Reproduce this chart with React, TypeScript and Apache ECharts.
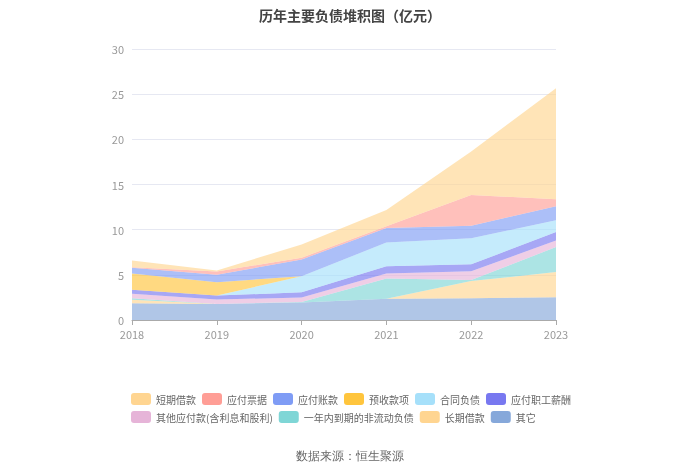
import React, { useEffect, useRef } from "react";
import * as echarts from "echarts";

const years = ["2018", "2019", "2020", "2021", "2022", "2023"];

// legend order (top of stack first)
const shortLoan = [0.75, 0.11, 1.47, 1.8, 4.8, 12.3];
const notesPayable = [0.07, 0.37, 0.2, 0.18, 3.4, 0.77];
const accountsPayable = [0.63, 0.82, 1.85, 1.62, 1.4, 1.56];
const advanceReceipts = [1.8, 1.48, 0, 0, 0, 0];
const contractLiab = [0, 0, 1.78, 2.62, 2.88, 1.3];
const staffPay = [0.45, 0.44, 0.57, 0.8, 0.77, 0.93];
const otherPayables = [0.5, 0.48, 0.5, 0.55, 0.95, 0.73];
const dueWithinYear = [0.15, 0, 0.05, 2.25, 0.12, 2.77];
const longLoan = [0.4, 0, 0, 0, 1.9, 2.78];
const others = [1.85, 1.78, 1.95, 2.35, 2.42, 2.52];

const legendNames = [
  "短期借款",
  "应付票据",
  "应付账款",
  "预收款项",
  "合同负债",
  "应付职工薪酬",
  "其他应付款(含利息和股利)",
  "一年内到期的非流动负债",
  "长期借款",
  "其它",
];

const seriesDefs = [
  { name: "其它", data: others, color: "#86a8da" },
  { name: "长期借款", data: longLoan, color: "#ffd591" },
  { name: "一年内到期的非流动负债", data: dueWithinYear, color: "#7fd6d6" },
  { name: "其他应付款(含利息和股利)", data: otherPayables, color: "#e6b4d8" },
  { name: "应付职工薪酬", data: staffPay, color: "#7878f0" },
  { name: "合同负债", data: contractLiab, color: "#a6e0fa" },
  { name: "预收款项", data: advanceReceipts, color: "#ffc53d" },
  { name: "应付账款", data: accountsPayable, color: "#7f9cf5" },
  { name: "应付票据", data: notesPayable, color: "#ff9e96" },
  { name: "短期借款", data: shortLoan, color: "#ffd591" },
];

export default function App() {
  const ref = useRef<HTMLDivElement>(null);
  useEffect(() => {
    if (!ref.current) return;
    const chart = echarts.init(ref.current, undefined, { renderer: "svg" });
    chart.setOption({
      animation: false,
      textStyle: { fontFamily: "'Noto Sans CJK SC', 'Noto Sans', sans-serif" },
      title: {
        text: "历年主要负债堆积图（亿元）",
        left: "center",
        top: 3,
        textStyle: { fontSize: 14, fontWeight: "bold", color: "#444" },
      },
      graphic: [
        {
          type: "text",
          left: "center",
          top: 450,
          style: { text: "数据来源：恒生聚源", fontSize: 12, fill: "#666" },
        },
      ],
      legend: {
        data: legendNames,
        left: 126,
        top: 388,
        width: 450,
        itemWidth: 20,
        itemHeight: 12,
        itemGap: 6,
        icon: "roundRect",
        textStyle: { fontSize: 10, color: "#666" },
      },
      grid: { left: 132, right: 144, top: 49, bottom: 154 },
      xAxis: {
        type: "category",
        boundaryGap: false,
        data: years,
        axisLine: { lineStyle: { color: "#aaa" } },
        axisTick: { show: true, lineStyle: { color: "#aaa" } },
        axisLabel: { color: "#999", fontSize: 11 },
      },
      yAxis: {
        type: "value",
        min: 0,
        max: 30,
        interval: 5,
        axisLine: { show: false },
        axisTick: { show: false },
        axisLabel: { color: "#999", fontSize: 11 },
        splitLine: { lineStyle: { color: "#e6e8f2" } },
      },
      series: seriesDefs.map((s) => ({
        name: s.name,
        type: "line",
        stack: "total",
        data: s.data,
        symbol: "none",
        showSymbol: false,
        lineStyle: { width: 0 },
        itemStyle: { color: s.color },
        areaStyle: { color: s.color, opacity: 0.65 },
      })),
    });
    return () => chart.dispose();
  }, []);
  return (
    <div
      ref={ref}
      style={{ position: "fixed", left: 0, top: 0, width: 700, height: 474 }}
    />
  );
}
